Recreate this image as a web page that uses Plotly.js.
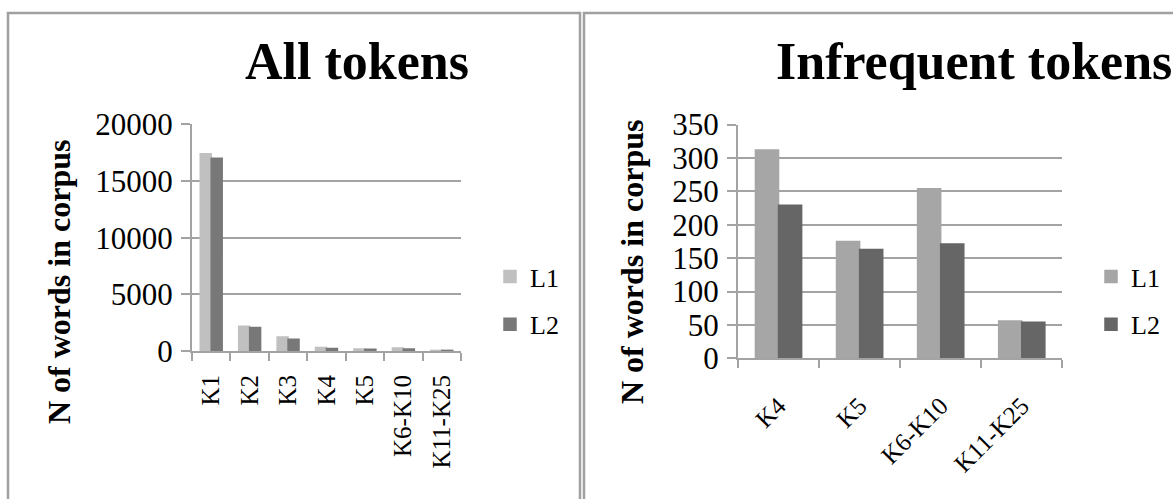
<!DOCTYPE html>
<html>
<head>
<meta charset="utf-8">
<script src="https://cdn.plot.ly/plotly-3.0.1.min.js"></script>
<style>
  html, body { margin: 0; padding: 0; background: #fff; }
  #chart { width: 1173px; height: 499px; }
</style>
</head>
<body>
<div id="chart"></div>
<script>
// Word-frequency bands (BNC/COCA K-levels)
const allBands = ['K1', 'K2', 'K3', 'K4', 'K5', 'K6-K10', 'K11-K25'];
const infrequentBands = ['K4', 'K5', 'K6-K10', 'K11-K25'];

// Token counts for the three most frequent bands
const frequentL1 = [17400, 2180, 1240];
const frequentL2 = [17000, 2070, 1030];

// Token counts for the infrequent bands
const infrequentL1 = [312, 175, 254, 56];
const infrequentL2 = [229, 163, 171, 54];

const allL1 = frequentL1.concat(infrequentL1);
const allL2 = frequentL2.concat(infrequentL2);

const seriesNames = ['L1', 'L2'];
const allTicks = [0, 5000, 10000, 15000, 20000];
const infrequentTicks = [0, 50, 100, 150, 200, 250, 300, 350];

// Page geometry helpers (pixel -> paper fraction)
const W = 1173, H = 499;
const px = v => v / W;
const py = v => 1 - v / H;

const serif = 'Liberation Serif, Times New Roman, serif';
const gridCol = '#a3a3a3';

function bar(x, y, name, color, xa, ya, leg, grp) {
  return { type: 'bar', x: x, y: y, name: name, xaxis: xa, yaxis: ya,
    marker: { color: color, line: { color: color, width: 1.5 } },
    legend: leg, legendgroup: grp };
}

const traces = [
  bar(allBands, allL1, seriesNames[0], '#c0c0c0', 'x', 'y', 'legend', 'a'),
  bar(allBands, allL2, seriesNames[1], '#787878', 'x', 'y', 'legend', 'b'),
  bar(infrequentBands, infrequentL1, seriesNames[0], '#a6a6a6', 'x2', 'y2', 'legend2', 'c'),
  bar(infrequentBands, infrequentL2, seriesNames[1], '#666666', 'x2', 'y2', 'legend2', 'd')
];

const yTickFont = { family: serif, size: 31, color: '#000' };
const xTickFont = { family: serif, size: 25, color: '#000' };

const xCommon = {
  type: 'category', showline: true, linecolor: gridCol, linewidth: 2,
  ticks: 'outside', ticklen: 8, tickwidth: 2, tickcolor: gridCol,
  tickson: 'boundaries', showgrid: false, zeroline: false,
  tickfont: xTickFont, fixedrange: true
};
const yCommon = {
  showline: true, linecolor: gridCol, linewidth: 2,
  ticks: 'outside', ticklen: 9, tickwidth: 2, tickcolor: gridCol,
  showgrid: true, gridcolor: gridCol, gridwidth: 2, zeroline: false,
  tickfont: yTickFont, ticklabelstandoff: 2, fixedrange: true
};

const legendCommon = {
  font: { family: serif, size: 26, color: '#000' },
  bgcolor: 'rgba(0,0,0,0)', borderwidth: 0,
  traceorder: 'grouped', tracegroupgap: 11,
  xanchor: 'left', yanchor: 'top'
};

const layout = {
  width: W, height: H,
  margin: { l: 0, r: 0, t: 0, b: 0 },
  paper_bgcolor: '#fff', plot_bgcolor: '#fff',
  barmode: 'group', bargap: 0.43, bargroupgap: 0,
  showlegend: true,
  xaxis: Object.assign({}, xCommon, { domain: [px(192), px(461)], anchor: 'y',
    tickangle: -90, ticklabelstandoff: 12 }),
  yaxis: Object.assign({}, yCommon, { domain: [py(351), py(124.3)], anchor: 'x',
    range: [0, 20000], tickvals: allTicks, ticktext: allTicks.map(String) }),
  xaxis2: Object.assign({}, xCommon, { domain: [px(738), px(1062.3)], anchor: 'y2',
    tickangle: -45, ticklabelstandoff: 21 }),
  yaxis2: Object.assign({}, yCommon, { domain: [py(358.3), py(124.5)], anchor: 'x2',
    range: [0, 350], tickvals: infrequentTicks, ticktext: infrequentTicks.map(String) }),
  legend: Object.assign({}, legendCommon, { x: px(490), y: py(253) }),
  legend2: Object.assign({}, legendCommon, { x: px(1091), y: py(253) }),
  annotations: [
    { text: '<b>All tokens</b>', xref: 'paper', yref: 'paper', x: px(357), y: py(61),
      xanchor: 'center', yanchor: 'middle', showarrow: false,
      font: { family: serif, size: 52, color: '#000' } },
    { text: '<b>Infrequent tokens</b>', xref: 'paper', yref: 'paper', x: px(974), y: py(61),
      xanchor: 'center', yanchor: 'middle', showarrow: false,
      font: { family: serif, size: 52, color: '#000' } },
    { text: '<b>N of words in corpus</b>', xref: 'paper', yref: 'paper', x: px(59), y: py(282),
      xanchor: 'center', yanchor: 'middle', showarrow: false, textangle: -90,
      font: { family: serif, size: 32, color: '#000' } },
    { text: '<b>N of words in corpus</b>', xref: 'paper', yref: 'paper', x: px(632), y: py(262),
      xanchor: 'center', yanchor: 'middle', showarrow: false, textangle: -90,
      font: { family: serif, size: 32, color: '#000' } }
  ],
  shapes: [
    // panel frames
    { type: 'rect', xref: 'paper', yref: 'paper', x0: px(8), x1: px(580), y0: py(520), y1: py(13),
      line: { color: '#a0a0a0', width: 2.5 }, layer: 'below' },
    { type: 'rect', xref: 'paper', yref: 'paper', x0: px(584), x1: px(1190), y0: py(520), y1: py(13),
      line: { color: '#a0a0a0', width: 2.5 }, layer: 'below' }
  ]
};

Plotly.newPlot('chart', traces, layout, { displayModeBar: false, staticPlot: true });
</script>
</body>
</html>
